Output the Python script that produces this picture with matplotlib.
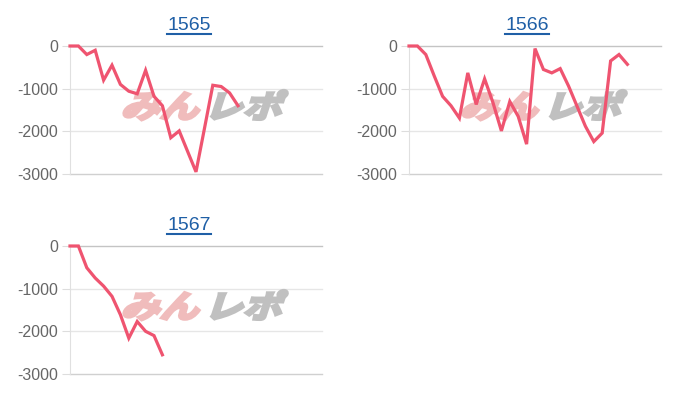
import matplotlib
matplotlib.use("Agg")
from matplotlib import pyplot
from matplotlib.font_manager import FontProperties
from matplotlib.textpath import TextPath
from matplotlib.patches import PathPatch
from matplotlib.lines import Line2D
from matplotlib.transforms import Affine2D

pyplot.rcParams["font.family"] = ["Liberation Sans", "DejaVu Sans"]

# 各台の差枚推移
titles = ["1565", "1566", "1567"]
values_1565 = [0, 0, -200, -100, -800, -450, -900, -1060, -1120, -570, -1180, -1400,
               -2150, -1990, -2470, -2950, -1940, -920, -950, -1100, -1400]
values_1566 = [0, 0, -200, -700, -1180, -1400, -1690, -630, -1370, -770, -1330, -1990,
               -1300, -1650, -2300, -60, -550, -630, -530, -940, -1410, -1880, -2240,
               -2040, -350, -200, -430]
values_1567 = [0, 0, -510, -750, -940, -1180, -1610, -2160, -1770, -2000, -2100, -2550]
series = [values_1565, values_1566, values_1567]

y_ticks = [0, -1000, -2000, -3000]
y_tick_labels = ["0", "-1000", "-2000", "-3000"]

line_color = "#ef5470"
title_color = "#1f5fa6"

# 軸の位置 (px): left, top
W, H = 700, 400
panel_px = [(70, 46), (409, 46), (70, 246)]
title_x_px = [189, 527, 189]
ax_w, ax_h = 252, 128

fig = pyplot.figure(figsize=(7, 4), dpi=100)
jp = FontProperties(family="Noto Sans CJK JP", weight="bold")

axes = []
for (lx, ty), title, vals, tx in zip(panel_px, titles, series, title_x_px):
    ax = fig.add_axes([lx / W, 1 - (ty + ax_h) / H, ax_w / W, ax_h / H])
    axes.append(ax)
    ax.plot(range(len(vals)), vals, color=line_color, lw=2.3, zorder=3,
            clip_on=False, solid_joinstyle="miter")
    ax.set_xlim(0, 30)
    ax.set_ylim(-3000, 0)
    ax.set_yticks(y_ticks)
    ax.set_yticklabels(y_tick_labels)
    ax.set_xticks([])
    ax.tick_params(axis="y", length=6, color="#dddddd", labelcolor="#666666",
                   labelsize=11.5, pad=2.5)
    for s in ["top", "right", "bottom"]:
        ax.spines[s].set_visible(False)
    ax.spines["left"].set_color("#e0e0e0")
    for yv, c in zip(y_ticks, ["#c4c4c4", "#e6e6e6", "#e6e6e6", "#d0d0d0"]):
        ax.axhline(yv, color=c, lw=1, zorder=1, clip_on=False)

    fig.text(tx / W, 1 - (ty - 20) / H, title, color=title_color, fontsize=14,
             ha="center", va="center")

fig.canvas.draw()
renderer = fig.canvas.get_renderer()

# タイトル下線
for t in list(fig.texts):
    bb = t.get_window_extent(renderer)
    y = bb.y0 + 0.5
    fig.add_artist(Line2D([bb.x0 / W, bb.x1 / W], [y / H, y / H],
                          transform=fig.transFigure, color=title_color, lw=1.5))

# 透かしロゴ
for ax in axes:
    x0, y0 = ax.transAxes.transform((0.2, 0.44))
    p1 = TextPath((0, 0), "みん", size=30, prop=jp)
    p2 = TextPath((64, 0), "レポ", size=30, prop=jp)
    tr = Affine2D().scale(1.3, 1.05).skew_deg(18, 0).translate(x0, y0)
    ax.add_artist(PathPatch(p1, transform=tr, facecolor="#f0bcbc", edgecolor="#f0bcbc",
                            lw=2.2, zorder=2))
    ax.add_artist(PathPatch(p2, transform=tr, facecolor="#c0c0c0", edgecolor="#c0c0c0",
                            lw=2.2, zorder=2))

fig.savefig("out.png", dpi=100)
